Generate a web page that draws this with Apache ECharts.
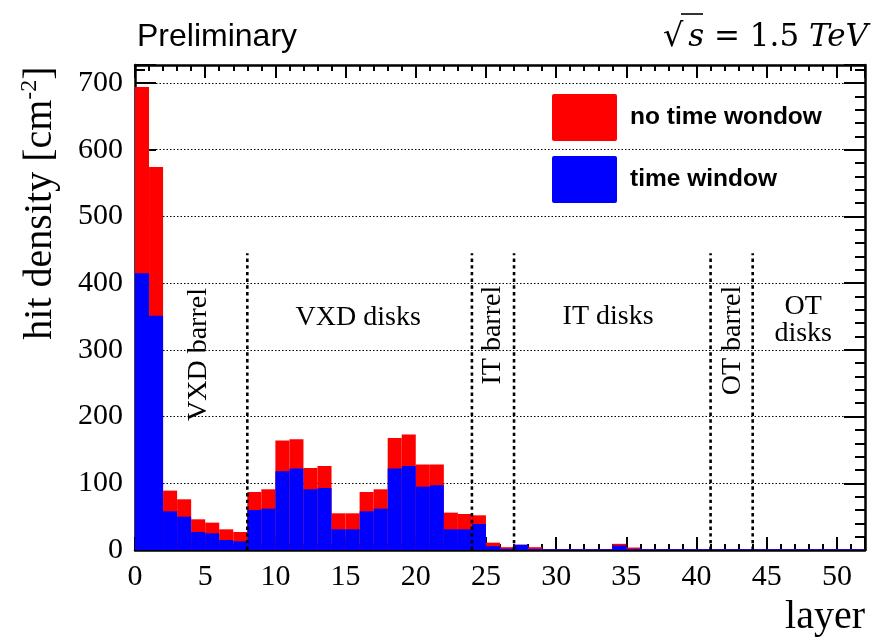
<!DOCTYPE html>
<html>
<head>
<meta charset="utf-8">
<script src="https://cdn.jsdelivr.net/npm/echarts@6/dist/echarts.min.js"></script>
<style>
html,body{margin:0;padding:0;background:#fff;}
#c{width:879px;height:637px;}
</style>
</head>
<body>
<div id="c"></div>
<script>
// bin start of each layer
const layers = [0,1,2,3,4,5,6,7,8,9,10,11,12,13,14,15,16,17,18,19,20,21,22,23,24,25,
  26,27,28,29,30,31,32,33,34,35,36,37,38,39,40,41,42,43,44,45,46,47,48,49,50,51];
// hit density without time window [cm^-2]
const noTimeWindow = [694,574,89,76,46,41,31,27,87,91,164,166,123,126,55,55,87,91,168,173,128,128,56,54,52,11,
  4.2,8,4.2,1.5,1.5,1.5,1.5,1.5,9.2,3.7,1.2,1.2,1.2,1.2,1.2,1.2,1.2,1.2,1.2,1.2,1.2,1.2,1.2,1.2,1.2,1.2];
// hit density with time window [cm^-2]
const timeWindow = [415,351,58,50,27,25,15,13,60,62,118,122,91,93,31,31,58,62,122,126,95,97,31,31,39,5.7,
  1.8,7.8,1.5,1.2,1.2,1.2,1.2,1.2,6.7,1.5,1.2,1.2,1.2,1.2,1.2,1.2,1.2,1.2,1.2,1.2,1.2,1.2,1.2,1.2,1.2,1.2];
// detector region boundaries (layer)
const boundaries = [8,24,27,41,44];
const boundaryTop = 445;
// tick labels
const xTicks = [0,5,10,15,20,25,30,35,40,45,50];
const yTicks = [0,100,200,300,400,500,600,700];
const regionNames = ['VXD barrel','VXD disks','IT barrel','IT disks','OT barrel','OT\ndisks'];

const X_MIN = 0, X_MAX = 52, Y_MIN = 0, Y_MAX = 727;
// annotation placement (data coords) and rotation
const regionPlacement = [
  {x:4.55, y:293, rot:true},
  {x:15.9, y:348, rot:false},
  {x:25.45, y:322, rot:true},
  {x:33.7, y:350, rot:false},
  {x:42.55, y:314, rot:true},
  {x:47.6, y:344, rot:false}
];

const serif = '"Liberation Serif", "Times New Roman", serif';
const sans = '"Liberation Sans", Arial, sans-serif';

const chart = echarts.init(document.getElementById('c'), null, {renderer:'canvas'});

function histItem(color){
  return function(params, api){
    const x0 = api.value(0), v = api.value(1);
    const p1 = api.coord([x0, v]);
    const p2 = api.coord([x0 + 1, 0]);
    return {type:'rect', shape:{x:p1[0], y:p1[1], width:p2[0]-p1[0], height:p2[1]-p1[1]},
      style:{fill:color, stroke:null}};
  };
}

const axisLineStyle = {show:true, onZero:false, lineStyle:{color:'#000', width:2.5}};
function xAx(pos, interval, tickLen, labels, line){
  return {type:'value', position:pos, min:X_MIN, max:X_MAX, interval:interval,
    axisLine: line ? axisLineStyle : {show:false, onZero:false},
    axisTick:{show:true, inside:true, length:tickLen, lineStyle:{color:'#000', width:2}},
    axisLabel: labels ? {show:true, margin:12, color:'#000', fontFamily:serif, fontSize:30,
      formatter: v => xTicks.indexOf(v) >= 0 ? String(v) : ''} : {show:false},
    splitLine:{show:false}};
}
function yAx(pos, interval, tickLen, labels, line, split){
  return {type:'value', position:pos, min:Y_MIN, max:Y_MAX, interval:interval,
    axisLine: line ? axisLineStyle : {show:false, onZero:false},
    axisTick:{show:true, inside:true, length:tickLen, lineStyle:{color:'#000', width:2}},
    axisLabel: labels ? {show:true, margin:12, color:'#000', fontFamily:serif, fontSize:30,
      formatter: v => yTicks.indexOf(v) >= 0 ? String(v) : ''} : {show:false},
    splitLine: split ? {show:true, lineStyle:{color:'#000', width:1.2, type:[1.5,2]}} : {show:false}};
}

const option = {
  animation:false,
  backgroundColor:'#fff',
  grid:{left:135, right:14, top:65, bottom:87, containLabel:false},
  xAxis:[ xAx('bottom',5,13,true,true), xAx('bottom',1,6,false,false),
          xAx('top',5,13,false,true), xAx('top',1,6,false,false) ],
  yAxis:[ yAx('left',100,21,true,true,true), yAx('left',20,10,false,false,false),
          yAx('right',100,21,false,true,false), yAx('right',20,10,false,false,false) ],
  legend:{
    orient:'vertical', left:552, top:94, padding:0, itemWidth:65, itemHeight:47, itemGap:15,
    icon:'path://M2,0 L63,0 Q65,0 65,2 L65,45 Q65,47 63,47 L2,47 Q0,47 0,45 L0,2 Q0,0 2,0 Z',
    selectedMode:false,
    data:['no time wondow','time window'],
    textStyle:{fontFamily:sans, fontWeight:'bold', fontSize:24.5, color:'#000', padding:[6,0,0,8]}
  },
  series:[
    {name:'no time wondow', type:'custom', xAxisIndex:0, yAxisIndex:0,
     itemStyle:{color:'#ff0000'}, renderItem:histItem('#ff0000'),
     data: layers.map((l,i)=>[l, noTimeWindow[i]]), z:2},
    {name:'time window', type:'custom', xAxisIndex:0, yAxisIndex:0,
     itemStyle:{color:'#0000ff'}, renderItem:histItem('#0000ff'),
     data: layers.map((l,i)=>[l, timeWindow[i]]), z:3},
    {name:'boundaries', type:'custom', xAxisIndex:0, yAxisIndex:0, z:5, silent:true,
     renderItem:function(params, api){
       const b = api.value(0);
       const a = api.coord([b, 0]), t = api.coord([b, api.value(1)]);
       return {type:'line', shape:{x1:a[0], y1:a[1], x2:t[0], y2:t[1]},
         style:{stroke:'#000', lineWidth:2.6, lineDash:[3.4,3.3]}};
     },
     data: boundaries.map(b=>[b, boundaryTop])},
    {name:'regions', type:'custom', xAxisIndex:0, yAxisIndex:0, z:6, silent:true,
     renderItem:function(params, api){
       const p = api.coord([api.value(0), api.value(1)]);
       const rp = regionPlacement[params.dataIndex];
       return {type:'text', x:p[0], y:p[1], rotation: rp.rot ? Math.PI/2 : 0,
         style:{text: regionNames[params.dataIndex], fill:'#000',
           font:'28px ' + serif, align:'center', verticalAlign:'middle', lineHeight:27}};
     },
     data: regionPlacement.map(r=>[r.x, r.y])}
  ],
  graphic:[
    {type:'text', left:137, top:21, style:{text:'Preliminary', fill:'#000', font:'32px ' + sans}},
    {type:'text', x:663, y:38, style:{
      text:'{r|\u221A}', align:'left', verticalAlign:'middle', fill:'#000',
      rich:{r:{fontFamily:'"DejaVu Serif", serif', fontSize:32}}}},
    {type:'text', x:868, y:38, style:{
      text:'{i|s}{r| = 1.5 }{i|TeV}', align:'right', verticalAlign:'middle', fill:'#000',
      rich:{r:{fontFamily:'"DejaVu Serif", serif', fontSize:31},
            i:{fontFamily:'"DejaVu Serif", serif', fontSize:31, fontStyle:'italic'}}}},
    {type:'line', shape:{x1:681, y1:14, x2:703, y2:14}, style:{stroke:'#000', lineWidth:1.6}},
    {type:'text', x:40, y:203, rotation:Math.PI/2, style:{
      text:'{a|hit density [cm}{b|-2}{a|]}', align:'center', verticalAlign:'middle', fill:'#000',
      rich:{a:{fontFamily:serif, fontSize:40, lineHeight:44},
            b:{fontFamily:serif, fontSize:24, verticalAlign:'top', lineHeight:44}}}},
    {type:'text', x:865, y:617, style:{text:'layer', align:'right', verticalAlign:'middle', fill:'#000', font:'40px ' + serif}}
  ]
};
chart.setOption(option);
</script>
</body>
</html>
